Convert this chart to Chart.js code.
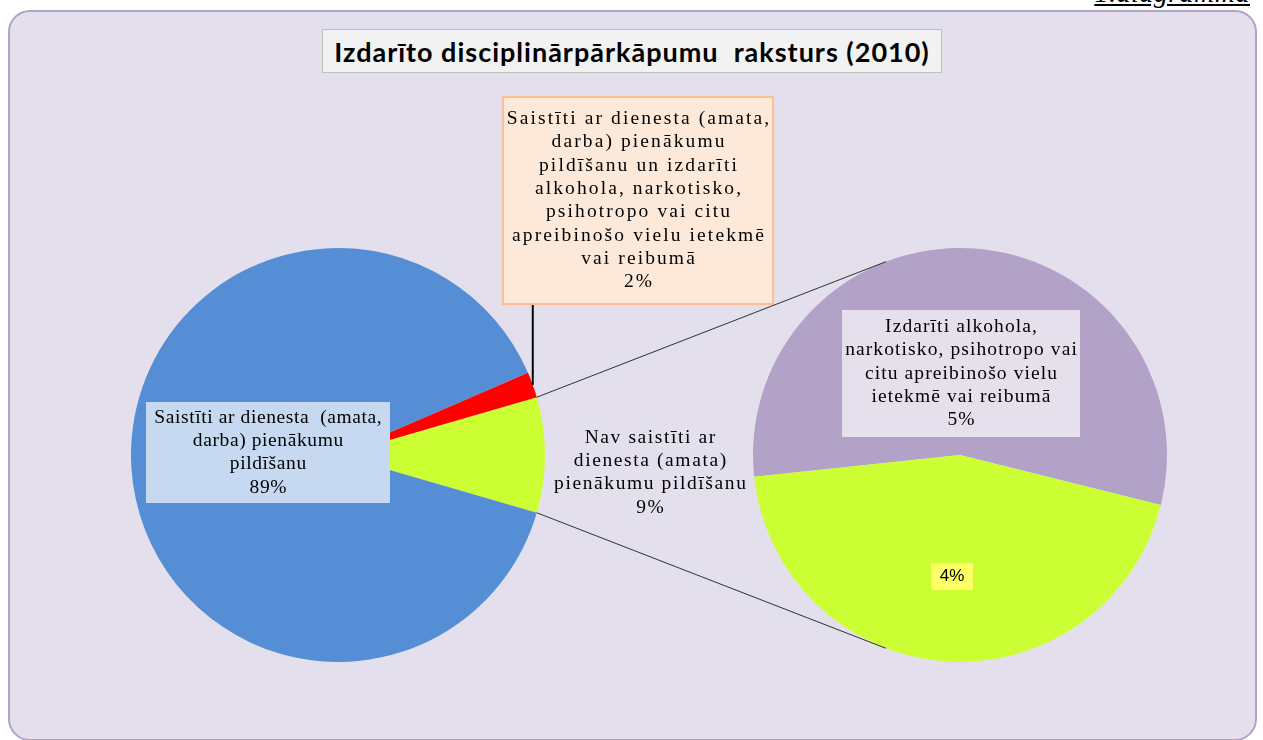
<!DOCTYPE html>
<html lang="lv">
<head>
<meta charset="UTF-8">
<title>Izdarīto disciplinārpārkāpumu raksturs (2010)</title>
<script src="https://cdn.jsdelivr.net/npm/chart.js"></script>
<style>
    body { margin: 0; background: #fff; width: 1263px; height: 740px; overflow: hidden; position: relative; }
    .frame { position: absolute; left: 8px; top: 10px; width: 1245px; height: 727px; background: #E4DFEC; border: 2px solid #B3A2C7; border-radius: 22px; }
    .pagenum { position: absolute; right: 13px; top: -21px; font: italic 28px "Liberation Serif", serif; text-decoration: underline; line-height: 28px; letter-spacing: 0.5px; }
    .title { position: absolute; left: 322px; top: 29px; width: 618px; height: 42px; background: #F2F2F2; border: 1px solid #BFBFBF;
             font: bold 27px Lato, sans-serif; letter-spacing: 1px; color: #000; display: flex; align-items: center; justify-content: center; white-space: pre; }
    canvas { position: absolute; left: 0; top: 0; }
</style>
</head>
<body>
<div class="pagenum">1.diagramma</div>
<div class="frame"></div>
<div class="title">Izdarīto disciplinārpārkāpumu  raksturs (2010)</div>
<canvas id="mainPie" width="1263" height="740"></canvas>
<canvas id="subPie" width="1263" height="740"></canvas>

<script>
    // main pie: not related / related / related + under influence
    const mainCategories = [
        'Nav saistīti ar dienesta (amata) pienākumu pildīšanu',
        'Saistīti ar dienesta (amata, darba) pienākumu pildīšanu',
        'Saistīti ar dienesta (amata, darba) pienākumu pildīšanu un izdarīti alkohola, narkotisko, psihotropo vai citu apreibinošo vielu ietekmē vai reibumā'
    ];
    const mainValues = [9, 89, 2];
    const mainColors = ['#CCFF33', '#558ED5', '#FF0000'];

    // second pie: breakdown of the 9%
    const subCategories = [
        'Izdarīti alkohola, narkotisko, psihotropo vai citu apreibinošo vielu ietekmē vai reibumā',
        'Citi'
    ];
    const subValues = [5, 4];
    const subColors = ['#B2A2C7', '#CCFF33'];

    // label text as it is wrapped in the picture
    const mainLabelLines = [
        ['Nav saistīti ar', 'dienesta (amata)', 'pienākumu pildīšanu'],
        ['Saistīti ar dienesta  (amata,', 'darba) pienākumu', 'pildīšanu'],
        ['Saistīti ar dienesta (amata,', 'darba) pienākumu', 'pildīšanu un izdarīti', 'alkohola, narkotisko,',
         'psihotropo vai citu', 'apreibinošo vielu ietekmē', 'vai reibumā']
    ];
    const subLabelLines = [
        ['Izdarīti alkohola,', 'narkotisko, psihotropo vai', 'citu apreibinošo vielu', 'ietekmē vai reibumā'],
        []
    ];

    const serif = '19.5px "Liberation Serif", serif';

    function drawLabel(ctx, box, lines, opt) {
        ctx.save();
        if (opt.fill) {
            ctx.fillStyle = opt.fill;
            ctx.fillRect(box.x, box.y, box.w, box.h);
        }
        if (opt.stroke) {
            ctx.strokeStyle = opt.stroke;
            ctx.lineWidth = 2;
            ctx.strokeRect(box.x, box.y, box.w, box.h);
        }
        ctx.fillStyle = '#000';
        ctx.font = opt.font || serif;
        const sp = opt.spacing === undefined ? 1.6 : opt.spacing;
        ctx.letterSpacing = sp + 'px';
        ctx.textAlign = 'center';
        ctx.textBaseline = 'middle';
        const lh = opt.lineHeight || 23.3;
        const cx = box.x + box.w / 2 + sp / 2;
        let y = box.y + box.h / 2 - (lines.length - 1) * lh / 2;
        lines.forEach(l => { ctx.fillText(l, cx, y); y += lh; });
        ctx.restore();
    }

    // label boxes (layout only)
    const mainBoxes = [
        { x: 560, y: 425, w: 180, h: 95 },
        { x: 146, y: 402, w: 244, h: 101 },
        { x: 503, y: 97, w: 270, h: 207 }
    ];
    const subBoxes = [
        { x: 842, y: 310, w: 238, h: 127 },
        { x: 931, y: 563, w: 42, h: 27 }
    ];

    const mainLabelPlugin = {
        id: 'mainLabels',
        afterDraw(chart) {
            const ctx = chart.ctx;
            const arcs = chart.getDatasetMeta(0).data;
            // leader line from the red slice to its box
            const red = arcs[2];
            const mid = (red.startAngle + red.endAngle) / 2;
            const px = red.x + Math.cos(mid) * red.outerRadius;
            const py = red.y + Math.sin(mid) * red.outerRadius;
            ctx.save();
            ctx.strokeStyle = '#000';
            ctx.lineWidth = 2;
            ctx.beginPath();
            ctx.moveTo(px, py);
            ctx.lineTo(px, mainBoxes[2].y + mainBoxes[2].h);
            ctx.stroke();
            ctx.restore();

            const styles = [
                { spacing: 1.6 },
                { fill: '#C6D9F1', spacing: 0.6 },
                { fill: '#FDE9D9', stroke: '#FAC090', spacing: 2.1 }
            ];
            mainValues.forEach((v, i) => {
                drawLabel(ctx, mainBoxes[i], mainLabelLines[i].concat([v + '%']), styles[i]);
            });
        }
    };

    const mainChart = new Chart(document.getElementById('mainPie'), {
        type: 'pie',
        data: {
            labels: mainCategories,
            datasets: [{ data: mainValues, backgroundColor: mainColors, borderWidth: 0 }]
        },
        options: {
            responsive: false,
            animation: false,
            rotation: 90 - mainValues[0] / 100 * 180,
            layout: { padding: { left: 131, right: 718, top: 248, bottom: 78 } },
            plugins: { legend: { display: false }, tooltip: { enabled: false } }
        },
        plugins: [mainLabelPlugin]
    });

    const subLabelPlugin = {
        id: 'subLabels',
        afterDraw(chart) {
            const ctx = chart.ctx;
            // connector lines between the 9% slice and the second pie
            const src = mainChart.getDatasetMeta(0).data[0];
            const dst = chart.getDatasetMeta(0).data[0];
            const ang = 111 * Math.PI / 180;
            ctx.save();
            ctx.strokeStyle = '#303030';
            ctx.lineWidth = 1;
            [[src.startAngle, -ang], [src.endAngle, ang]].forEach(([a, b]) => {
                ctx.beginPath();
                ctx.moveTo(src.x + Math.cos(a) * src.outerRadius, src.y + Math.sin(a) * src.outerRadius);
                ctx.lineTo(dst.x + Math.cos(b) * dst.outerRadius, dst.y + Math.sin(b) * dst.outerRadius);
                ctx.stroke();
            });
            ctx.restore();

            drawLabel(ctx, subBoxes[0], subLabelLines[0].concat([subValues[0] + '%']), { fill: '#E6E0EC', spacing: 1.1 });
            drawLabel(ctx, subBoxes[1], [subValues[1] + '%'], { fill: '#FFFF66', font: '17px "Liberation Sans", sans-serif', spacing: 0 });
        }
    };

    new Chart(document.getElementById('subPie'), {
        type: 'pie',
        data: {
            labels: subCategories,
            datasets: [{ data: subValues, backgroundColor: subColors, borderWidth: 0 }]
        },
        options: {
            responsive: false,
            animation: false,
            rotation: 264,
            layout: { padding: { left: 753, right: 96, top: 248, bottom: 78 } },
            plugins: { legend: { display: false }, tooltip: { enabled: false } }
        },
        plugins: [subLabelPlugin]
    });
</script>
</body>
</html>
